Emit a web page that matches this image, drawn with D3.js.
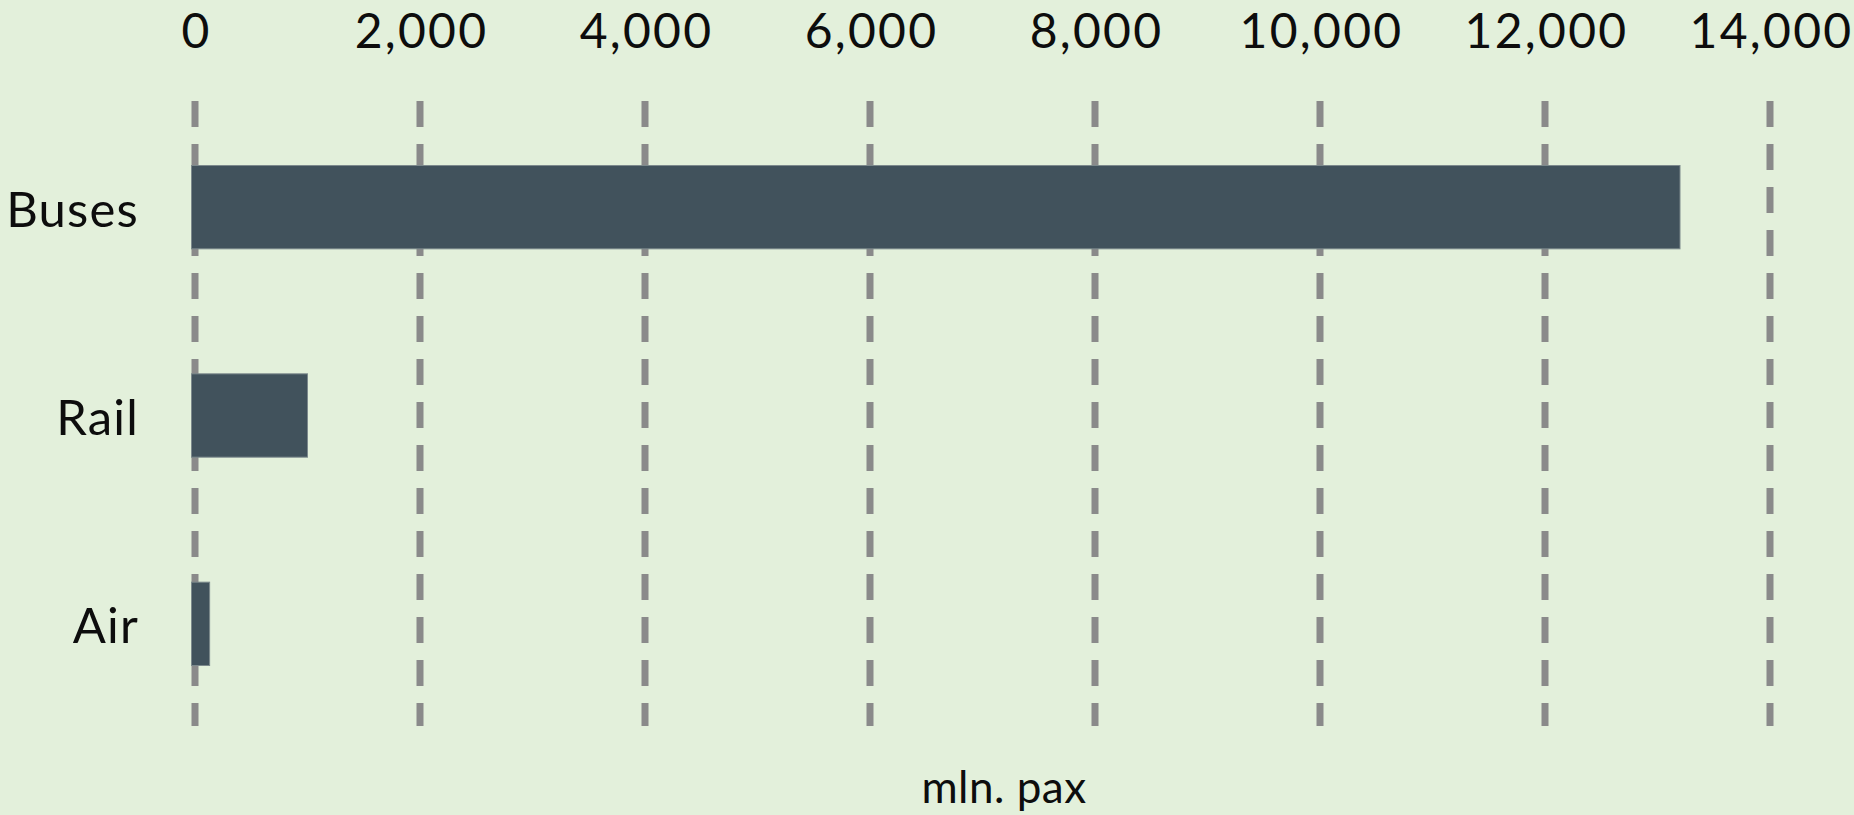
<!DOCTYPE html>
<html>
<head>
<meta charset="utf-8">
<script src="https://cdn.jsdelivr.net/npm/d3@7"></script>
<style>
  html, body { margin: 0; padding: 0; background: #e3f0db; }
  svg { display: block; }
  text { font-family: Lato, "Open Sans", sans-serif; fill: #0d0d0d; }
</style>
</head>
<body>
<svg id="chart" width="1854" height="815"></svg>
<script>
// Passenger volumes by mode, million passengers
const categories = ["Buses", "Rail", "Air"];
const values = [13200, 1000, 130];
const tickValues = [0, 2000, 4000, 6000, 8000, 10000, 12000, 14000];
const axisTitle = "mln. pax";

const W = 1854, H = 815;
const plot = { left: 195, right: 1770, top: 101, bottom: 726 };
const gridWidth = 7;

const svg = d3.select("#chart");

svg.append("rect")
  .attr("width", W).attr("height", H)
  .attr("fill", "#e3f0db");

const x = d3.scaleLinear().domain([0, 14000]).range([plot.left, plot.right]);
const y = d3.scaleBand()
  .domain(categories)
  .range([plot.top + 2, plot.bottom + 2])
  .paddingInner(0.6)
  .paddingOuter(0.3);

// Dashed vertical gridlines
svg.append("g")
  .selectAll("line")
  .data(tickValues)
  .join("line")
  .attr("x1", d => x(d)).attr("x2", d => x(d))
  .attr("y1", plot.top).attr("y2", plot.bottom)
  .attr("stroke", "#8a8a8a")
  .attr("stroke-width", gridWidth)
  .attr("stroke-dasharray", "26 17");

// Bars
svg.append("g")
  .selectAll("rect")
  .data(categories.map((c, i) => ({ c, v: values[i] })))
  .join("rect")
  .attr("x", x(0) - gridWidth / 2)
  .attr("y", d => y(d.c))
  .attr("width", d => x(d.v) - x(0) + gridWidth / 2)
  .attr("height", y.bandwidth())
  .attr("fill", "#41525c")
  .attr("stroke", "#7c898c")
  .attr("stroke-width", 1);

// Value axis along the top
const xAxis = d3.axisTop(x)
  .tickValues(tickValues)
  .tickFormat(d3.format(","))
  .tickSize(0)
  .tickPadding(0);

svg.append("g")
  .attr("transform", "translate(0,48)")
  .call(xAxis)
  .call(g => g.select(".domain").remove())
  .call(g => g.selectAll("text")
    .attr("dy", "0")
    .attr("dx", "1")
    .style("font-family", "Lato, 'Open Sans', sans-serif")
    .style("font-size", "48px")
    .style("letter-spacing", "2.3px")
    .attr("fill", "#0d0d0d"));

// Category axis
const yAxis = d3.axisLeft(y).tickSize(0).tickPadding(56);

svg.append("g")
  .attr("transform", `translate(${x(0)},0)`)
  .call(yAxis)
  .call(g => g.select(".domain").remove())
  .call(g => g.selectAll("text")
    .attr("dy", "0.4em")
    .style("font-family", "Lato, 'Open Sans', sans-serif")
    .style("font-size", "49px")
    .style("letter-spacing", "1.2px")
    .attr("fill", "#0d0d0d"));

// Axis title
svg.append("text")
  .attr("x", 1004)
  .attr("y", 803)
  .attr("text-anchor", "middle")
  .style("font-size", "44px")
  .style("letter-spacing", "0.5px")
  .text(axisTitle);
</script>
</body>
</html>
